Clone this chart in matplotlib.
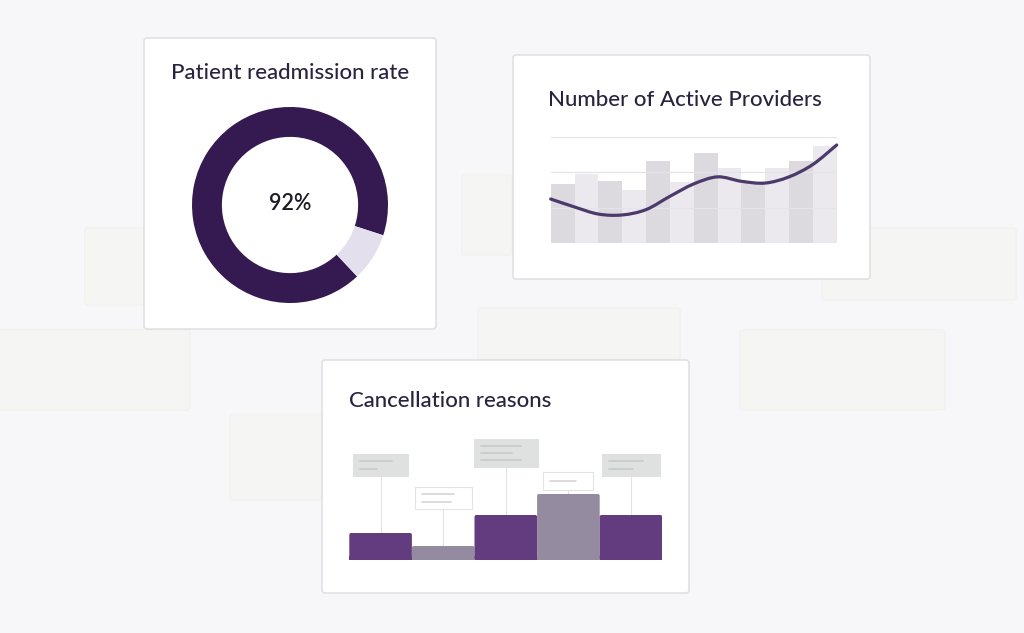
import numpy as np
import matplotlib.pyplot as plt
from matplotlib.patches import FancyBboxPatch, Rectangle, PathPatch
from matplotlib.path import Path

# ------------------------------------------------------------------
# data
# ------------------------------------------------------------------
readmission_share = [92, 8]          # readmitted / rest
readmission_label = "92%"

provider_bars = [67, 78, 70, 60, 93, 69, 102, 85, 68, 85, 93, 110]
provider_trend = [50, 41, 33, 32, 38, 53, 67, 75, 70, 68, 75, 89, 111]

cancel_values = [27, 14, 45, 66, 45]
cancel_text_lines = [2, 2, 3, 1, 2]   # placeholder label lines per reason

# ------------------------------------------------------------------
# style / layout
# ------------------------------------------------------------------
W, H = 1024, 633
BG = "#f7f6f8"
TITLE = "#2a2340"
DONUT_DARK = "#341a50"
DONUT_LIGHT = "#e4dfec"
BAR_DARK = "#dcdadf"
BAR_LIGHT = "#ebe9ee"
TREND = "#4b3a6b"
CANCEL_COLORS = ["#623c7e", "#958ba0", "#623c7e", "#958ba0", "#623c7e"]

# label boxes above cancellation bars (height above baseline in px, size in px)
box_bottom = [84, 51, 93, 70, 84]
box_w = [55, 57, 64, 50, 58]
box_h = [22, 22, 28, 18, 22]
line_frac = [[0.78, 0.42], [0.74, 0.68], [0.80, 0.62], [0.72], [0.78, 0.55]]

plt.rcParams['font.family'] = ['Lato', 'DejaVu Sans']

fig = plt.figure(figsize=(W / 100, H / 100), dpi=100)
fig.patch.set_facecolor(BG)

bg = fig.add_axes([0, 0, 1, 1])
bg.set_xlim(0, W)
bg.set_ylim(H, 0)
bg.axis('off')


def px_axes(x0, y0, x1, y1):
    return fig.add_axes([x0 / W, 1 - y1 / H, (x1 - x0) / W, (y1 - y0) / H])


def card(x0, y0, x1, y1, fc="white", ec="#dcdce1", lw=1.0):
    bg.add_patch(FancyBboxPatch((x0, y0), x1 - x0, y1 - y0,
                                boxstyle="round,pad=0,rounding_size=3",
                                fc=fc, ec=ec, lw=lw))


# faint cards in the background
for (x0, y0, x1, y1) in [(85, 228, 192, 305), (-5, 330, 190, 410), (462, 175, 512, 255),
                         (478, 308, 680, 360), (740, 330, 945, 410), (822, 228, 1016, 300),
                         (230, 415, 322, 500)]:
    card(x0, y0, x1, y1, fc="#f5f6f4", ec="#f1f3ef", lw=1.2)

# main cards
card(144, 38, 436, 329)
card(513, 55, 870, 279)
card(322, 360, 689, 593)

tkw = dict(fontsize=16, fontweight='medium', color=TITLE)
bg.text(290, 73, "Patient readmission rate", ha='center', va='center', **tkw)
bg.text(548, 100, "Number of Active Providers", ha='left', va='center', **tkw)
bg.text(349, 401, "Cancellation reasons", ha='left', va='center', **tkw)

# ------------------------------------------------------------------
# donut
# ------------------------------------------------------------------
ax1 = px_axes(192, 107, 388, 303)
ax1.pie(readmission_share, colors=[DONUT_DARK, DONUT_LIGHT], startangle=-18,
        counterclock=True, radius=1.0,
        wedgeprops=dict(width=0.305, edgecolor='none'))
ax1.set_xlim(-1, 1)
ax1.set_ylim(-1, 1)
ax1.set_aspect('equal')
ax1.text(0, 0.02, readmission_label, ha='center', va='center', fontsize=15.5,
         fontweight='semibold', color="#1d1b26")

# ------------------------------------------------------------------
# active providers
# ------------------------------------------------------------------
ax2 = px_axes(550.7, 137, 836.7, 243.3)
ax2.set_facecolor('none')
n = len(provider_bars)
xs = np.arange(n) + 0.5
ax2.bar(xs, provider_bars, width=1.0,
        color=[BAR_DARK if i % 2 == 0 else BAR_LIGHT for i in range(n)], zorder=1)
for g in [0, 40, 80, 120]:
    ax2.axhline(g, color="#e4e3e8", lw=0.9, zorder=2)

# smooth trend line (Catmull-Rom through the points)
tx = np.arange(len(provider_trend), dtype=float)
ty = np.array(provider_trend, dtype=float)
pts = np.column_stack([tx, ty])
ext = np.vstack([pts[0], pts, pts[-1]])
verts = [tuple(pts[0])]
codes = [Path.MOVETO]
for i in range(1, len(ext) - 2):
    p0, p1, p2, p3 = ext[i - 1], ext[i], ext[i + 1], ext[i + 2]
    c1 = p1 + (p2 - p0) / 6
    c2 = p2 - (p3 - p1) / 6
    verts += [tuple(c1), tuple(c2), tuple(p2)]
    codes += [Path.CURVE4] * 3
ax2.add_patch(PathPatch(Path(verts, codes), fc='none', ec=TREND, lw=2.3,
                        capstyle='round', zorder=3, clip_on=False))
ax2.set_xlim(0, n)
ax2.set_ylim(0, 120)
ax2.axis('off')

# ------------------------------------------------------------------
# cancellation reasons
# ------------------------------------------------------------------
ax3 = px_axes(349.3, 430, 662.3, 560)
ax3.set_facecolor('none')
unit = 62.6   # px per bar
for i, v in enumerate(cancel_values):
    ax3.add_patch(FancyBboxPatch((i - 0.5, 0), 1.0, v,
                                 boxstyle="round,pad=0,rounding_size=0.03",
                                 mutation_aspect=unit,
                                 fc=CANCEL_COLORS[i], ec='none', zorder=2))
    ax3.add_patch(Rectangle((i - 0.5, 0), 1.0, min(v, 4), fc=CANCEL_COLORS[i],
                            ec='none', zorder=2))
    dark = i % 2 == 0
    bw = box_w[i] / unit
    bb = box_bottom[i]
    bh = box_h[i]
    ax3.plot([i, i], [v, bb], color="#e2e2e4", lw=0.8, zorder=1)
    ax3.add_patch(Rectangle((i - bw / 2, bb), bw, bh,
                            fc="#dfe1e1" if dark else "white",
                            ec="#dfe1e1" if dark else "#e3e3e6", lw=0.8, zorder=3,
                            clip_on=False))
    nl = cancel_text_lines[i]
    gap = bh / (nl + 1)
    for k in range(nl):
        yy = bb + bh - gap * (k + 1)
        x0 = i - bw / 2 + 7 / unit
        ax3.plot([x0, x0 + (bw - 14 / unit) * line_frac[i][k % len(line_frac[i])]],
                 [yy, yy], color="#c6c9ca" if dark else "#d6d6da", lw=1.2,
                 zorder=4, clip_on=False, solid_capstyle='round')
ax3.set_xlim(-0.5, len(cancel_values) - 0.5)
ax3.set_ylim(0, 130)
ax3.axis('off')

fig.savefig("out.png", dpi=100, facecolor=BG)
